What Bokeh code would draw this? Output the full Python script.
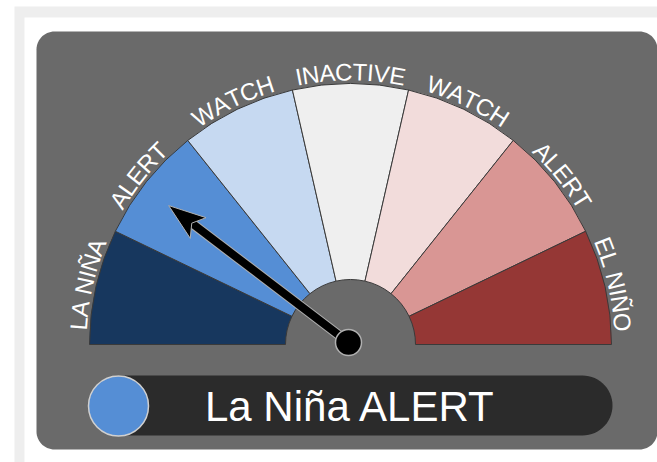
import numpy as np
from bokeh.plotting import figure
from bokeh.models import Range1d, ColumnDataSource
from bokeh.embed import file_html
from bokeh.resources import INLINE
from bokeh.core.properties import value

# ---------------- data ----------------
categories = ["LA NIÑA", "ALERT", "WATCH", "INACTIVE", "WATCH", "ALERT", "EL NIÑO"]
colors = ["#17375e", "#558ed5", "#c6d9f1", "#efefef", "#f2dcdb", "#d99694", "#953735"]
needle_value = 1.45          # needle position on the 0..7 category scale (from the left)
status_text = "La Niña ALERT"
status_color = "#558ed5"

# ---------------- layout ----------------
W, H = 657, 462
VIEW_H = 462


def Y(py):
    return VIEW_H - py


p = figure(width=W, height=H,
           x_range=Range1d(0, W), y_range=Range1d(0, H),
           output_backend="svg", toolbar_location=None,
           x_axis_type=None, y_axis_type=None, min_border=0)
p.outline_line_color = None
p.grid.visible = False
p.background_fill_color = "white"
p.border_fill_color = "white"


def rrect(x0, x1, py0, py1, r, n=16):
    y0, y1 = Y(py1), Y(py0)
    pts = []
    for cx, cy, a0 in [(x1 - r, y1 - r, 0), (x0 + r, y1 - r, 90),
                       (x0 + r, y0 + r, 180), (x1 - r, y0 + r, 270)]:
        a = np.radians(np.linspace(a0, a0 + 90, n))
        pts += list(zip(cx + r * np.cos(a), cy + r * np.sin(a)))
    xs, ys = zip(*pts)
    return list(xs), list(ys)


# outer light frame
p.quad(left=14, right=720, top=Y(6), bottom=Y(520), fill_color="#eeeeee", line_color=None)
p.quad(left=24, right=720, top=Y(17), bottom=Y(520), fill_color="white", line_color=None)

# dark panel
xs, ys = rrect(36, 657, 31, 449, 18)
p.patch(xs, ys, fill_color="#6a6a6a", line_color=None)

# gauge wedges
CX, CY = 350, Y(344)
R_IN, R_OUT = 65, 261
n = len(categories)
step = np.pi / n
src = ColumnDataSource(dict(
    start=[np.pi - (i + 1) * step for i in range(n)],
    end=[np.pi - i * step for i in range(n)],
    color=colors,
    label=categories,
))
p.annular_wedge(x=CX, y=CY, inner_radius=R_IN, outer_radius=R_OUT,
                start_angle="start", end_angle="end", fill_color="color",
                line_color="#3a3a3a", line_width=1, source=src)

# curved labels (character by character along the arc)
ARIAL = {"A": 667, "C": 722, "E": 667, "H": 722, "I": 278, "L": 556, "N": 722,
         "Ñ": 722, "O": 778, "R": 722, "T": 611, "V": 667, "W": 944, " ": 278}
FS = 24
R_BASE = 264
R_TXT = R_BASE + 0.36 * FS     # radius of the capital letters' middle
cx_l, cy_l, ch_l, ang_l = [], [], [], []
for i, lab in enumerate(categories):
    mid = np.pi - (i + 0.5) * step
    widths = [ARIAL.get(c, 667) * FS / 1000 for c in lab]
    total = sum(widths)
    a_start = mid + (total / 2) / R_TXT
    acc = 0
    for c, w in zip(lab, widths):
        a = a_start - (acc + w / 2) / R_TXT
        acc += w
        if c == " ":
            continue
        cx_l.append(CX + R_TXT * np.cos(a))
        cy_l.append(CY + R_TXT * np.sin(a))
        ch_l.append(c)
        ang_l.append(a - np.pi / 2)
p.text(x=cx_l, y=cy_l, text=ch_l, angle=ang_l, text_align="center",
       text_baseline="middle", text_font=value("Liberation Sans"),
       text_font_size=f"{FS}px", text_color="white")

# needle
a_n = np.pi - needle_value * step
L = 226
ux, uy = np.cos(a_n), np.sin(a_n)
nx, ny = -uy, ux
PX, PY = CX - 2, CY + 2
tipx, tipy = PX + L * ux, PY + L * uy
HL, HW, NOTCH = 37, 13, 8
sx, sy = tipx - (HL - NOTCH) * ux, tipy - (HL - NOTCH) * uy
p.line([PX, sx], [PY, sy], line_color="#b0b0b0", line_width=10)
p.line([PX, sx], [PY, sy], line_color="black", line_width=8)
p.patch([tipx, tipx - HL * ux + HW * nx, sx, tipx - HL * ux - HW * nx],
        [tipy, tipy - HL * uy + HW * ny, sy, tipy - HL * uy - HW * ny],
        fill_color="black", line_color="#b0b0b0", line_width=1)
p.circle(x=PX, y=PY, radius=13, fill_color="black", line_color="#b0b0b0", line_width=1.5)

# status bar
xs, ys = rrect(88, 612, 375, 435, 30)
p.patch(xs, ys, fill_color="#2b2b2b", line_color=None)
p.circle(x=118, y=Y(405.5), radius=30, fill_color=status_color,
         line_color="#d0d0d0", line_width=1.5)
p.text(x=[350], y=[Y(406)], text=[status_text], text_align="center",
       text_baseline="middle", text_font=value("Liberation Sans"),
       text_font_size="42px", text_color="white")

open("out.html", "w").write(file_html(p, INLINE))
